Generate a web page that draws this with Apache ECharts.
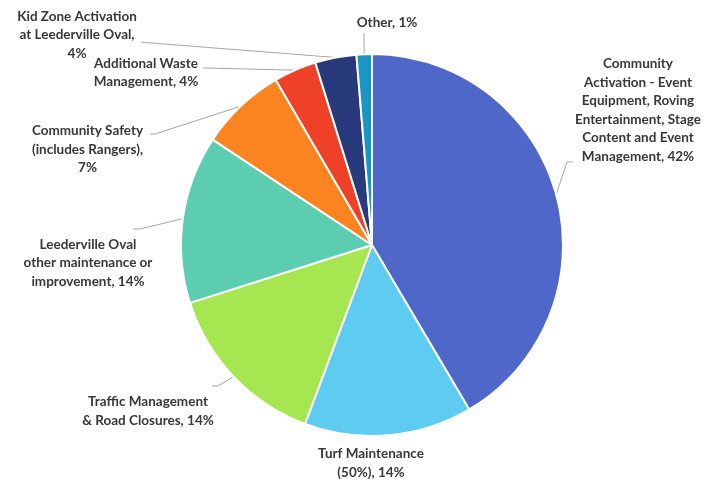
<!DOCTYPE html>
<html><head><meta charset="utf-8">
<script src="https://cdn.jsdelivr.net/npm/echarts@6/dist/echarts.min.js"></script>
<style>html,body{margin:0;padding:0;background:#fff}#c{width:709px;height:483px}</style>
</head><body><div id="c"></div>
<script>
// Data
const categories = [
  'Community Activation - Event Equipment, Roving Entertainment, Stage Content and Event Management',
  'Turf Maintenance (50%)',
  'Traffic Management & Road Closures',
  'Leederville Oval other maintenance or improvement',
  'Community Safety (includes Rangers)',
  'Additional Waste Management',
  'Kid Zone Activation at Leederville Oval',
  'Other'
];
const values = [41.5, 14.2, 14.4, 14.2, 7.3, 3.6, 3.5, 1.3];
const labelTexts = [
  'Community\nActivation - Event\nEquipment, Roving\nEntertainment, Stage\nContent and Event\nManagement, {d}%',
  'Turf Maintenance\n(50%), {d}%',
  'Traffic Management\n& Road Closures, {d}%',
  'Leederville Oval\nother maintenance or\nimprovement, {d}%',
  'Community Safety\n(includes Rangers),\n{d}%',
  'Additional Waste\nManagement, {d}%',
  'Kid Zone Activation\nat Leederville Oval,\n{d}%',
  'Other, {d}%'
];
const colors = ['#4f67c8', '#5ecbf1', '#a6e650', '#5ccdb0', '#fb8421', '#ee4128', '#283a7c', '#1996c4'];

// Layout (label block centres and leader line elbow/end points)
const labelPos = [[638,110],[371,463],[148,411],[88,263],[87.5,149.5],[146,72.5],[77,35],[387,23]];
const linePts = [
  [[567,162],[573,162]],
  null,
  [[218,386],[212,386]],
  [[140,229],[133,229]],
  [[155,134],[150,134]],
  [[207,68],[203,68]],
  [[145,42.5],[141,42]],
  [[364,33],[364,33]]
];

const chart = echarts.init(document.getElementById('c'), null, {renderer:'canvas'});
chart.setOption({
  animation: false,
  series: [{
    type: 'pie',
    center: [372, 245],
    radius: 191,
    startAngle: 90,
    clockwise: true,
    percentPrecision: 0,
    avoidLabelOverlap: false,
    itemStyle: { borderColor: '#ffffff', borderWidth: 2 },
    label: {
      show: true,
      fontFamily: 'Lato',
      fontWeight: 'bold',
      fontSize: 13.5,
      lineHeight: 18.5,
      color: '#383838',
      align: 'center'
    },
    labelLine: { show: true, lineStyle: { color: '#a6a6a6', width: 1 } },
    labelLayout: function (p) {
      const i = p.dataIndex;
      const res = { x: labelPos[i][0], y: labelPos[i][1], align: 'center', verticalAlign: 'middle' };
      if (linePts[i] && p.labelLinePoints) {
        res.labelLinePoints = [p.labelLinePoints[0], linePts[i][0], linePts[i][1]];
      }
      return res;
    },
    data: categories.map((n, i) => ({
      name: n,
      value: values[i],
      itemStyle: { color: colors[i] },
      label: { formatter: labelTexts[i] },
      labelLine: { show: linePts[i] !== null }
    }))
  }]
});
</script></body></html>
